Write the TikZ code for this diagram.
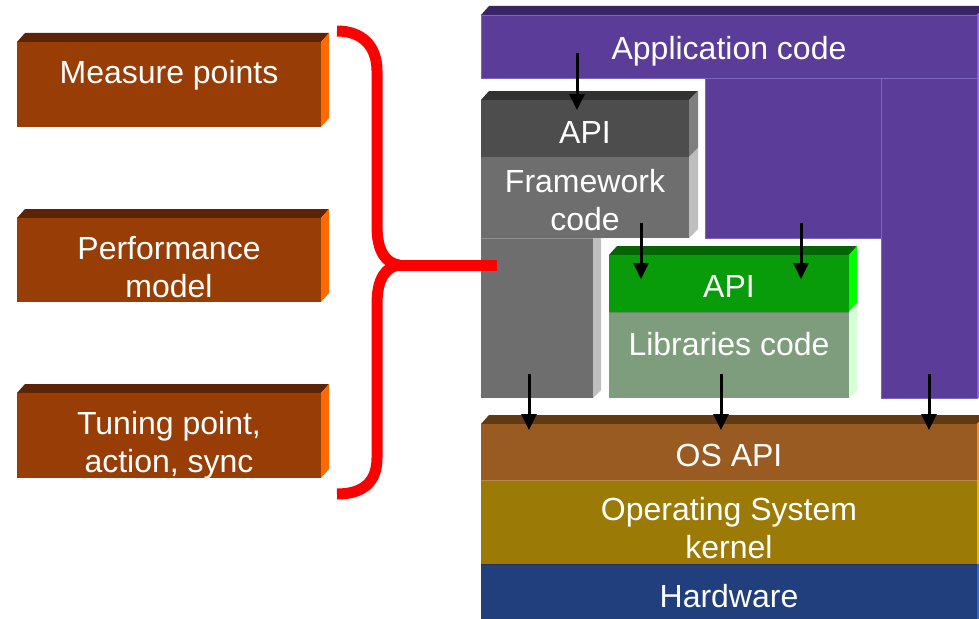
\documentclass[tikz,border=0pt]{standalone}
\usepackage{fontspec}
\setmainfont{Liberation Sans}
\usetikzlibrary{arrows.meta}
\definecolor{lfront}{RGB}{153,61,6}
\definecolor{ltop}{RGB}{92,35,6}
\definecolor{lside}{RGB}{255,106,0}
\definecolor{appc}{RGB}{91,60,153}
\definecolor{apptop}{RGB}{58,36,102}
\definecolor{appside}{RGB}{150,110,235}
\definecolor{appline}{RGB}{125,100,190}
\definecolor{gapi}{RGB}{77,77,77}
\definecolor{gtop}{RGB}{50,50,50}
\definecolor{gapiside}{RGB}{127,127,127}
\definecolor{gfw}{RGB}{110,110,110}
\definecolor{gside}{RGB}{190,190,190}
\definecolor{gline}{RGB}{145,145,145}
\definecolor{grtop}{RGB}{5,100,5}
\definecolor{grapi}{RGB}{8,155,10}
\definecolor{grside}{RGB}{0,255,0}
\definecolor{grlib}{RGB}{125,157,125}
\definecolor{grlibside}{RGB}{214,255,214}
\definecolor{grline}{RGB}{105,135,105}
\definecolor{ostop}{RGB}{98,58,18}
\definecolor{osapi}{RGB}{154,91,34}
\definecolor{osside}{RGB}{240,140,50}
\definecolor{osline}{RGB}{185,135,80}
\definecolor{kern}{RGB}{155,122,5}
\definecolor{kernside}{RGB}{230,180,0}
\definecolor{hwc}{RGB}{33,62,125}
\definecolor{hwside}{RGB}{60,100,210}
\definecolor{hwline}{RGB}{40,45,90}
\definecolor{bracered}{RGB}{255,0,0}
\newcommand\leftcube[4]{%
  \fill[ltop] (#1,#2) -- (#1+8,#2-9) -- (#3+8,#2-9) -- (#3,#2) -- cycle;
  \fill[lside] (#3,#2) -- (#3+8,#2-9) -- (#3+8,#4-9) -- (#3,#4) -- cycle;
  \fill[lfront] (#1,#2) rectangle (#3,#4);}
\begin{document}
\begin{tikzpicture}[x=1pt,y=-1pt,
  lbl/.style={text=white, font=\fontsize{32}{38}\selectfont, align=center, inner sep=0pt},
  flow/.style={line width=3pt, -{Triangle[width=15pt,length=16pt]}},
  bracestroke/.style={draw=bracered, line width=11pt}]
\useasboundingbox (0,0) rectangle (979,618);
\clip (0,0) rectangle (979,618);
\fill[white] (0,0) rectangle (979,618);

% ---------- Application code (purple) ----------
\fill[apptop] (481,15) -- (489,6) -- (985,6) -- (977,15) -- cycle;
\fill[appside] (977,15) -- (985,6) -- (985,398) -- (977,398) -- cycle;
\filldraw[fill=appc, draw=appline, line width=0.8pt]
  (481,15) -- (977,15) -- (977,398) -- (881,398) -- (881,238) -- (705,238) -- (705,78) -- (481,78) -- cycle;
\draw[appline, line width=0.8pt] (705,78) -- (977,78) (881,78) -- (881,238);

% ---------- Framework (gray) ----------
\fill[gside] (593,238) -- (601,238) -- (601,390) -- (593,398) -- cycle;
\fill[gfw] (481,238) rectangle (593,398);
\fill[gtop] (481,100) -- (489,91) -- (698,91) -- (689,100) -- cycle;
\fill[gapiside] (689,100) -- (698,91) -- (698,148) -- (689,157) -- cycle;
\fill[gside] (689,157) -- (698,148) -- (698,229) -- (689,238) -- cycle;
\fill[gapi] (481,100) rectangle (689,157);
\fill[gfw] (481,157) rectangle (689,238);
\draw[gline, line width=0.8pt] (481,238) -- (593,238);

% ---------- Libraries (green) ----------
\fill[grtop] (609,255) -- (617,246) -- (857,246) -- (849,255) -- cycle;
\fill[grside] (849,255) -- (857,246) -- (857,303) -- (849,312) -- cycle;
\fill[grlibside] (849,312) -- (857,303) -- (857,390) -- (849,398) -- cycle;
\fill[grapi] (609,255) rectangle (849,312);
\fill[grlib] (609,312) rectangle (849,398);
\draw[grline, line width=0.8pt] (609,312) -- (849,312);

% ---------- OS stack ----------
\fill[ostop] (481,424) -- (489,415) -- (985,415) -- (977,424) -- cycle;
\fill[osside] (977,424) -- (985,415) -- (985,480) -- (977,480) -- cycle;
\fill[kernside] (977,480) rectangle (985,564);
\fill[hwside] (977,564) rectangle (985,630);
\fill[osapi] (481,424) rectangle (977,480);
\fill[kern] (481,480) rectangle (977,564);
\fill[hwc] (481,564) rectangle (977,630);
\draw[osline, line width=0.8pt] (481,480) -- (977,480);
\draw[hwline, line width=0.8pt] (481,564) -- (977,564);

% ---------- left boxes ----------
\leftcube{17}{42}{321}{127}
\leftcube{17}{218}{321}{302}
\leftcube{17}{393}{321}{478}

% ---------- texts ----------
\node[lbl] (measure) at (169,75.4) {\strut Measure points};
\node[lbl] (perf) at (169,270.4) {\strut Performance\\\strut model};
\node[lbl] (tuning) at (169,445.4) {\strut Tuning point,\\\strut action, sync};
\node[lbl] (app) at (729,52.4) {\strut Application code};
\node[lbl] (fwapi) at (585,135.4) {\strut API};
\node[lbl] (fw) at (585,203.4) {\strut Framework\\\strut code};
\node[lbl] (libapi) at (729,289.4) {\strut API};
\node[lbl] (lib) at (729,347.4) {\strut Libraries code};
\node[lbl] (os) at (729,458.4) {\strut OS API};
\node[lbl] (kernel) at (729,531.4) {\strut Operating System\\\strut kernel};
\node[lbl] (hw) at (729,599.4) {\strut Hardware};

% ---------- arrows ----------
\coordinate (a1s) at (577,53);  \coordinate (a1e) at (577,110);
\coordinate (a2s) at (641,223); \coordinate (a2e) at (641,279);
\coordinate (a3s) at (801,223); \coordinate (a3e) at (801,279);
\coordinate (a4s) at (529,374); \coordinate (a4e) at (529,430);
\coordinate (a5s) at (721,374); \coordinate (a5e) at (721,430);
\coordinate (a6s) at (929,374); \coordinate (a6e) at (929,430);
\draw[flow] (a1s) -- (a1e);
\draw[flow] (a2s) -- (a2e);
\draw[flow] (a3s) -- (a3e);
\draw[flow] (a4s) -- (a4e);
\draw[flow] (a5s) -- (a5e);
\draw[flow] (a6s) -- (a6e);

% ---------- brace ----------
\coordinate (btop) at (337,31);
\coordinate (btip) at (399,265);
\coordinate (bbot) at (337,494);
\coordinate (bend) at (497,265);
\draw[bracestroke] (btop) .. controls (362,31) and (377,46) .. (377,71) -- (377,226) .. controls (377,252) and (386,263) .. (btip);
\draw[bracestroke] (btip) .. controls (386,267) and (377,278) .. (377,304) -- (377,458) .. controls (377,483) and (362,494) .. (bbot);
\draw[bracestroke] (btip) -- (bend);
\end{tikzpicture}
\end{document}
